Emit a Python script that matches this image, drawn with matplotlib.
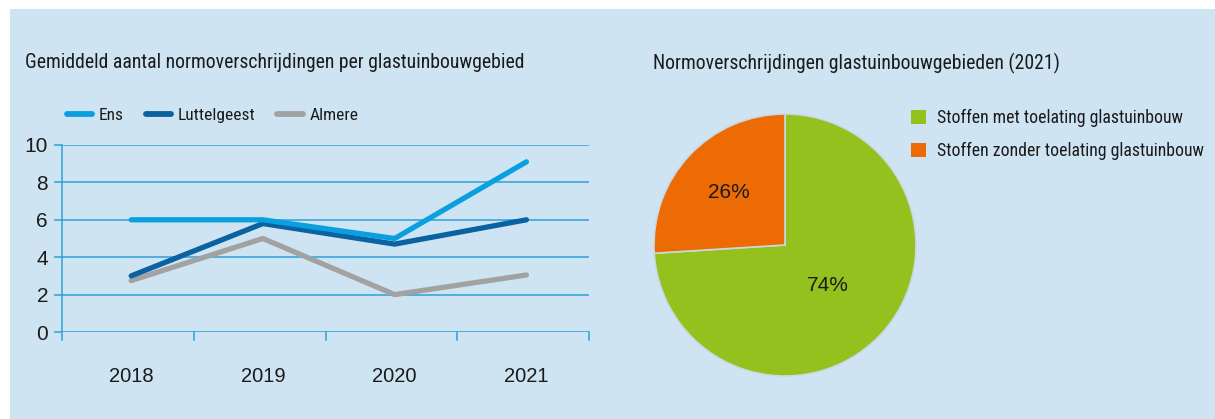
import matplotlib
matplotlib.use("Agg")
import matplotlib.pyplot as plt
from matplotlib.patches import Rectangle, Patch
from matplotlib.lines import Line2D
import numpy as np

# ---------------------------------------------------------------------------
# data
# ---------------------------------------------------------------------------
years = ["2018", "2019", "2020", "2021"]
ens = [6.0, 6.0, 5.0, 9.1]
luttelgeest = [3.0, 5.8, 4.7, 6.0]
almere = [2.75, 5.0, 2.0, 3.05]
series_names = ["Ens", "Luttelgeest", "Almere"]

pie_labels = ["Stoffen met toelating glastuinbouw",
              "Stoffen zonder toelating glastuinbouw"]
pie_values = [74, 26]

line_title = "Gemiddeld aantal normoverschrijdingen per glastuinbouwgebied"
pie_title = "Normoverschrijdingen glastuinbouwgebieden (2021)"

# ---------------------------------------------------------------------------
# style
# ---------------------------------------------------------------------------
BG = "#cfe4f3"
GRID = "#2e9fd9"
C_ENS = "#0aa0e0"
C_LUT = "#0a62a0"
C_ALM = "#a2a2a2"
C_GREEN = "#95c11f"
C_ORANGE = "#ec6b05"
NARROW = ["Roboto Condensed", "Archivo Narrow", "DejaVu Sans"]
REG = ["Liberation Sans", "DejaVu Sans"]
TXT = "#1a1a1a"

W, H = 1215, 419
fig = plt.figure(figsize=(W / 100, H / 100), dpi=100)
fig.patch.set_facecolor("white")
fig.add_artist(Rectangle((10 / W, 0), 1 - 10 / W, 1 - 9 / H,
                         transform=fig.transFigure, facecolor=BG,
                         edgecolor="none", zorder=-10))

# ---------------------------------------------------------------------------
# line chart
# ---------------------------------------------------------------------------
ax = fig.add_axes([62 / W, 1 - 332 / H, (589 - 62) / W, (332 - 145) / H])
ax.set_facecolor("none")
x = np.arange(len(years))
lw = 3.8
ax.plot(x, almere, color=C_ALM, lw=lw, solid_capstyle="round", zorder=3)
ax.plot(x, luttelgeest, color=C_LUT, lw=lw, solid_capstyle="round", zorder=4)
ax.plot(x, ens, color=C_ENS, lw=lw, solid_capstyle="round", zorder=5)

lo, hi = -0.525, len(years) - 0.525
ax.set_xlim(lo, hi)
ax.set_ylim(0, 10)
ax.set_yticks(range(0, 11, 2))
ax.yaxis.grid(True, color=GRID, lw=1.1)
ax.set_axisbelow(True)
for s in ["top", "right", "bottom"]:
    ax.spines[s].set_visible(False)
ax.spines["left"].set_color(GRID)
ax.spines["left"].set_linewidth(1.1)
ax.spines["left"].set_bounds(-0.45, 10)
ax.tick_params(axis="y", length=6, color=GRID, width=1.1, pad=4,
               labelsize=15, labelcolor=TXT)
ax.set_xticks(x)
ax.set_xticklabels(years, fontsize=14.5, color=TXT)
ax.tick_params(axis="x", length=0, pad=25)
for t in ax.get_xticklabels() + ax.get_yticklabels():
    t.set_family(REG)
# category boundary ticks hanging below the axis
for b in np.linspace(lo, hi, len(years) + 1)[1:]:
    ax.plot([b, b], [0, -0.45], color=GRID, lw=1.1, clip_on=False, zorder=2)

fig.text(25 / W, 1 - 63 / H, line_title, fontsize=14.2, family=NARROW,
         va="center", ha="left", color=TXT)

handles = [Line2D([], [], color=c, lw=4.2, solid_capstyle="round")
           for c in (C_ENS, C_LUT, C_ALM)]
fig.legend(handles, series_names, loc="center left",
           bbox_to_anchor=(67 / W, 1 - 115 / H), ncol=3, frameon=False,
           prop={"family": NARROW, "size": 12.5}, handlelength=1.45,
           handletextpad=0.4, columnspacing=1.25, borderpad=0,
           borderaxespad=0, labelcolor=TXT)

# ---------------------------------------------------------------------------
# pie chart
# ---------------------------------------------------------------------------
R = 131
cx, cy = 785, 245
pax = fig.add_axes([(cx - R) / W, 1 - (cy + R) / H, 2 * R / W, 2 * R / H])
wedges, _ = pax.pie(pie_values, colors=[C_GREEN, C_ORANGE], startangle=90,
                    counterclock=False, radius=1,
                    wedgeprops={"edgecolor": "#c9d9e3", "linewidth": 1.2})
pax.set_xlim(-1, 1)
pax.set_ylim(-1, 1)
pax.set_aspect("equal")
label_r = [0.45, 0.59]
for w, v, r in zip(wedges, pie_values, label_r):
    ang = np.deg2rad((w.theta1 + w.theta2) / 2)
    pax.text(r * np.cos(ang), r * np.sin(ang), f"{v}%", ha="center",
             va="center", fontsize=15, family=REG, color=TXT)

fig.text(653 / W, 1 - 63 / H, pie_title, fontsize=14.2, family=NARROW,
         va="center", ha="left", color=TXT)

phandles = [Patch(facecolor=c, edgecolor="none") for c in (C_GREEN, C_ORANGE)]
fig.legend(phandles, pie_labels, loc="upper left",
           bbox_to_anchor=(911 / W, 1 - 109 / H), frameon=False,
           prop={"family": NARROW, "size": 12.8}, handlelength=0.85,
           handleheight=0.85, handletextpad=0.6, labelspacing=0.85,
           borderpad=0, borderaxespad=0, labelcolor=TXT)

fig.savefig("out.png", dpi=100, facecolor=fig.get_facecolor())
